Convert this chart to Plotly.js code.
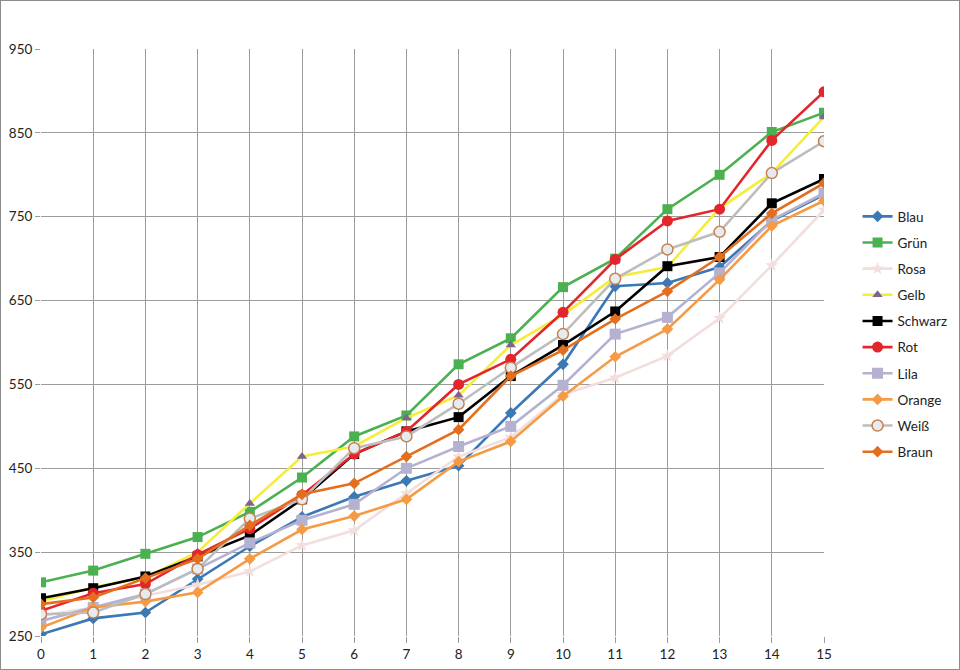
<!DOCTYPE html>
<html>
<head>
<meta charset="utf-8">
<script src="https://cdn.plot.ly/plotly-3.0.1.min.js"></script>
<style>
html,body{margin:0;padding:0;background:#fff;}
#chart{width:960px;height:670px;box-sizing:border-box;border:1px solid #8c8c8c;}
</style>
</head>
<body>
<div id="chart"></div>
<script>
const xValues = [0,1,2,3,4,5,6,7,8,9,10,11,12,13,14,15];
const blau    = [252,271,278,318,357,392,416,435,453,516,574,667,671,690,745,776];
const gruen   = [314,328,348,368,398,439,488,513,574,605,666,700,759,800,851,874];
const rosa    = [274,284,298,311,327,358,376,420,464,487,538,558,584,629,692,758];
const gelb    = [291,308,320,350,408,464,476,510,537,597,633,678,690,760,802,869];
const schwarz = [295,307,321,345,370,413,467,494,511,560,597,637,691,702,766,795];
const rot     = [280,301,312,347,378,418,467,494,550,580,636,699,745,759,841,899];
const lila    = [268,284,300,330,361,388,407,450,476,500,549,610,630,683,746,778];
const orange  = [260,284,291,302,342,377,393,413,458,482,536,583,616,675,739,769];
const weiss   = [276,278,300,330,390,413,474,488,527,570,610,676,711,732,802,840];
const braun   = [288,296,319,342,382,419,432,464,496,560,591,628,661,702,754,790];
const yTicks  = [250,350,450,550,650,750,850,950];

function tr(name, y, lineColor, symbol, size, mColor, mLine, mLineW){
  return {
    x: xValues, y: y, name: name, type: 'scatter', mode: 'lines+markers',
    legendgroup: name,
    line: {color: lineColor, width: 2.6},
    marker: {symbol: symbol, size: size, color: mColor || lineColor,
             line: {color: mLine || (mColor || lineColor), width: mLineW || 0}}
  };
}

const data = [
  tr('Blau', blau, '#3c78b4', 'diamond', 9),
  tr('Grün', gruen, '#4bb04f', 'square', 10),
  tr('Rosa', rosa, '#f1dedd', 'star', 10),
  tr('Gelb', gelb, '#f6ec3a', 'triangle-up', 9, '#7b6592'),
  tr('Schwarz', schwarz, '#000000', 'square', 10),
  tr('Rot', rot, '#e3262b', 'circle', 11),
  tr('Lila', lila, '#b4b1d1', 'square', 11),
  tr('Orange', orange, '#f59a45', 'diamond', 9),
  tr('Weiß', weiss, '#bdbdbd', 'circle', 11, '#e4ecf1', '#c9804f', 1.5),
  tr('Braun', braun, '#e36f1e', 'diamond', 9)
];

const layout = {
  width: 958, height: 668,
  margin: {l: 40, r: 135, t: 48, b: 33, autoexpand: false},
  paper_bgcolor: '#ffffff', plot_bgcolor: '#ffffff',
  font: {family: 'Lato, "Open Sans", sans-serif', size: 13, color: '#222'},
  showlegend: true,
  legend: {xref: 'container', yref: 'container', x: 0.8941, xanchor: 'left', y: 0.7005, yanchor: 'top',
           tracegroupgap: 5.6, font: {size: 13.5, color: '#222'}, bgcolor: 'rgba(0,0,0,0)'},
  xaxis: {range: [0, 15], tickvals: xValues, showgrid: true, gridcolor: '#9c9c9c', gridwidth: 1,
          zeroline: false, showline: false, ticks: 'outside', ticklen: 6, tickcolor: '#9c9c9c',
          tickfont: {size: 13.5}},
  yaxis: {range: [250, 950], tickvals: yTicks, showgrid: true, gridcolor: '#9c9c9c', gridwidth: 1,
          zeroline: false, showline: false, ticks: 'outside', ticklen: 5, tickcolor: '#9c9c9c',
          tickfont: {size: 13.5}}
};

Plotly.newPlot('chart', data, layout, {displayModeBar: false, staticPlot: true});
</script>
</body>
</html>
